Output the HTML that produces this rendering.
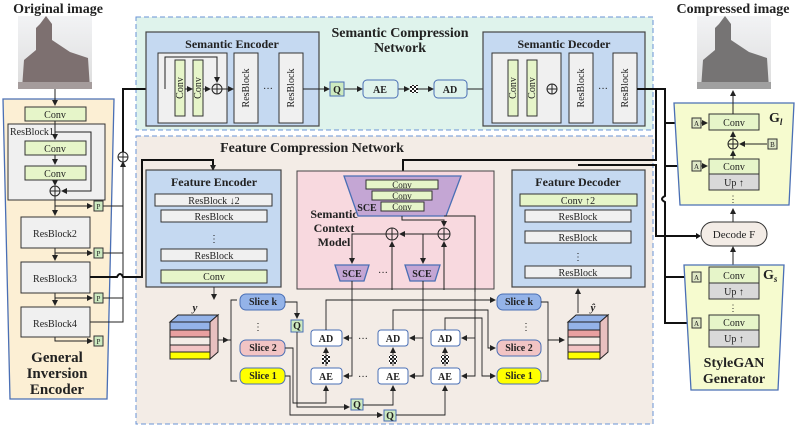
<!DOCTYPE html>
<html><head><meta charset="utf-8"><style>
html,body{margin:0;padding:0;background:#fff}
svg{display:block}
text{font-family:"Liberation Serif",serif;fill:#222}
.b{font-weight:bold}
</style></head><body>
<svg width="798" height="429" viewBox="0 0 798 429" xmlns="http://www.w3.org/2000/svg">
<defs>
<marker id="ar" markerWidth="6" markerHeight="6" refX="5" refY="3" orient="auto" markerUnits="userSpaceOnUse"><path d="M0,0 L6,3 L0,6 z" fill="#222"/></marker>
<pattern id="chk" width="4" height="4" patternUnits="userSpaceOnUse"><rect width="4" height="4" fill="#fff"/><rect width="2" height="2" fill="#222"/><rect x="2" y="2" width="2" height="2" fill="#222"/></pattern>
<linearGradient id="sky" x1="0" y1="0" x2="0" y2="1"><stop offset="0" stop-color="#f2f3f5"/><stop offset="1" stop-color="#dcdcdc"/></linearGradient>
</defs>

<text x="58" y="13" class="b" font-size="14" text-anchor="middle">Original image</text>
<text x="733" y="13" class="b" font-size="14" text-anchor="middle">Compressed image</text>

<g>
<rect x="18" y="16" width="74" height="73" fill="url(#sky)"/>
<path d="M40,24 L46,16 L52,24 L52,40 L70,52 L88,58 L90,89 L22,89 L24,60 L36,50 L36,28 Z" fill="#7d7070"/>
<rect x="18" y="82" width="74" height="7" fill="#a59c9c"/>
</g>
<g>
<rect x="697" y="16" width="74" height="73" fill="url(#sky)"/>
<path d="M719,24 L725,16 L731,24 L731,40 L749,52 L767,58 L769,89 L701,89 L703,60 L715,50 L715,28 Z" fill="#767474"/>
<rect x="697" y="82" width="74" height="7" fill="#a0a0a0"/>
</g>

<path d="M3,99 L114,99 L107,399 L10,399 Z" fill="#fcefd4" stroke="#4a6fb5" stroke-width="1.3"/>
<rect x="25" y="107" width="61" height="14" fill="#e6f5c9" stroke="#333"/>
<text x="55" y="118" font-size="10" text-anchor="middle">Conv</text>
<rect x="8" y="124" width="97" height="76" fill="#f0f0f0" stroke="#333"/>
<text x="10" y="135" font-size="10">ResBlock1</text>
<rect x="25" y="141" width="61" height="14" fill="#e6f5c9" stroke="#333"/>
<text x="55" y="152" font-size="10" text-anchor="middle">Conv</text>
<rect x="25" y="166" width="61" height="14" fill="#e6f5c9" stroke="#333"/>
<text x="55" y="177" font-size="10" text-anchor="middle">Conv</text>
<circle cx="55" cy="191" r="5" fill="none" stroke="#222"/>
<path d="M50,191 H60 M55,186 V196" stroke="#222"/>
<g stroke="#222" fill="none">
<path d="M55,89 V105" marker-end="url(#ar)"/>
<path d="M55,121 V139" marker-end="url(#ar)"/>
<path d="M55,155 V164" marker-end="url(#ar)"/>
<path d="M55,180 V185" marker-end="url(#ar)"/>
<path d="M55,132 H91 V191 H62" marker-end="url(#ar)"/>
<path d="M55,196 V215" marker-end="url(#ar)"/>
<path d="M55,206 H92" marker-end="url(#ar)"/>
<path d="M55,248 V260" marker-end="url(#ar)"/>
<path d="M55,253 H92" marker-end="url(#ar)"/>
<path d="M55,293 V305" marker-end="url(#ar)"/>
<path d="M55,298 H92" marker-end="url(#ar)"/>
<path d="M55,337 V341 H92" marker-end="url(#ar)"/>
<path d="M103,206 H123 M103,253 H123 M103,298 H123 M90,322 H123 V163" />
<path d="M123,165 V162" marker-end="url(#ar)"/>
</g>
<g font-size="10" text-anchor="middle">
<rect x="94" y="201" width="9" height="10" fill="#cdeac0" stroke="#333"/><text x="98.5" y="209" font-size="7">P</text>
<rect x="94" y="248" width="9" height="10" fill="#cdeac0" stroke="#333"/><text x="98.5" y="256" font-size="7">P</text>
<rect x="94" y="293" width="9" height="10" fill="#cdeac0" stroke="#333"/><text x="98.5" y="301" font-size="7">P</text>
<rect x="94" y="336" width="9" height="10" fill="#cdeac0" stroke="#333"/><text x="98.5" y="344" font-size="7">P</text>
<rect x="21" y="217" width="69" height="31" fill="#f0f0f0" stroke="#333"/><text x="55" y="237">ResBlock2</text>
<rect x="21" y="262" width="69" height="31" fill="#f0f0f0" stroke="#333"/><text x="55" y="282">ResBlock3</text>
<rect x="21" y="307" width="69" height="30" fill="#f0f0f0" stroke="#333"/><text x="55" y="327">ResBlock4</text>
</g>
<g font-size="15" text-anchor="middle">
<text x="57" y="362" class="b">General</text>
<text x="57" y="378" class="b">Inversion</text>
<text x="57" y="394" class="b">Encoder</text>
</g>
<circle cx="123" cy="157" r="5" fill="none" stroke="#222"/>
<path d="M118,157 H128 M123,152 V162" stroke="#222"/>

<rect x="136" y="17" width="517" height="113" fill="#dff3ec" stroke="#6a93d6" stroke-dasharray="5,3"/>
<text x="400" y="37" class="b" font-size="14" text-anchor="middle">Semantic Compression</text>
<text x="400" y="52" class="b" font-size="14" text-anchor="middle">Network</text>

<rect x="136" y="136" width="517" height="288" fill="#f3ece6" stroke="#6a93d6" stroke-dasharray="5,3"/>
<text x="312" y="152" class="b" font-size="14" text-anchor="middle">Feature Compression Network</text>

<g stroke="#111" fill="none" stroke-width="2">
<path d="M123,152 V89 H170" marker-end="url(#ar)"/>
<path d="M90,277 H117 q3,-6 6,0 H142 V160 H213 V168" />
<path d="M213,163 V170" marker-end="url(#ar)"/>
</g>

<rect x="146" y="32" width="173" height="94" fill="#c5d9f1" stroke="#444" stroke-width="1.2"/>
<text x="232" y="48" class="b" font-size="12" text-anchor="middle">Semantic Encoder</text>
<rect x="158" y="53" width="69" height="70" fill="#f0f0f0" stroke="#333"/>
<rect x="175" y="60" width="10" height="56" fill="#e6f5c9" stroke="#333"/>
<rect x="193" y="60" width="10" height="56" fill="#e6f5c9" stroke="#333"/>
<text transform="translate(183,88) rotate(-90)" font-size="10" text-anchor="middle">Conv</text>
<text transform="translate(201,88) rotate(-90)" font-size="10" text-anchor="middle">Conv</text>
<circle cx="217" cy="89" r="5" fill="none" stroke="#222"/><path d="M212,89 H222 M217,84 V94" stroke="#222"/>
<rect x="234" y="53" width="24" height="70" fill="#f0f0f0" stroke="#333"/>
<rect x="279" y="53" width="24" height="70" fill="#f0f0f0" stroke="#333"/>
<text transform="translate(249,88) rotate(-90)" font-size="10" text-anchor="middle">ResBlock</text>
<text transform="translate(294,88) rotate(-90)" font-size="10" text-anchor="middle">ResBlock</text>
<text x="268" y="92" font-size="10" text-anchor="middle">···</text>
<g stroke="#222" fill="none">
<path d="M165,89 V57 H217 V82" marker-end="url(#ar)"/>
<path d="M185,89 H192" marker-end="url(#ar)"/>
<path d="M203,89 H210" marker-end="url(#ar)"/>
<path d="M222,89 H233" marker-end="url(#ar)"/>
<path d="M303,89 H329" marker-end="url(#ar)"/>
<path d="M344,89 H362" marker-end="url(#ar)"/>
<path d="M398,89 H409" marker-end="url(#ar)"/>
<path d="M418,89 H433" marker-end="url(#ar)"/>
<path d="M467,89 H507" marker-end="url(#ar)"/>
<path d="M498,89 V57 H552 V82" marker-end="url(#ar)"/>
<path d="M518,89 H526" marker-end="url(#ar)"/>
<path d="M537,89 H545" marker-end="url(#ar)"/>
<path d="M557,89 H568" marker-end="url(#ar)"/>
</g>
<rect x="330" y="82" width="14" height="14" fill="#cdeac0" stroke="#4a6fb5"/>
<text x="337" y="93" class="b" font-size="10" text-anchor="middle">Q</text>
<rect x="363" y="80" width="35" height="18" rx="4" fill="#dff3ec" stroke="#4a6fb5"/>
<text x="380" y="93" class="b" font-size="10" text-anchor="middle">AE</text>
<rect x="410" y="85" width="8" height="8" fill="url(#chk)"/>
<rect x="434" y="80" width="33" height="18" rx="4" fill="#dff3ec" stroke="#4a6fb5"/>
<text x="450" y="93" class="b" font-size="10" text-anchor="middle">AD</text>

<rect x="483" y="32" width="162" height="94" fill="#c5d9f1" stroke="#444" stroke-width="1.2"/>
<text x="564" y="48" class="b" font-size="12" text-anchor="middle">Semantic Decoder</text>
<rect x="492" y="53" width="69" height="70" fill="#f0f0f0" stroke="#333"/>
<rect x="508" y="60" width="10" height="56" fill="#e6f5c9" stroke="#333"/>
<rect x="527" y="60" width="10" height="56" fill="#e6f5c9" stroke="#333"/>
<text transform="translate(516,88) rotate(-90)" font-size="10" text-anchor="middle">Conv</text>
<text transform="translate(535,88) rotate(-90)" font-size="10" text-anchor="middle">Conv</text>
<circle cx="552" cy="89" r="5" fill="none" stroke="#222"/><path d="M547,89 H557 M552,84 V94" stroke="#222"/>
<rect x="569" y="53" width="24" height="70" fill="#f0f0f0" stroke="#333"/>
<rect x="613" y="53" width="24" height="70" fill="#f0f0f0" stroke="#333"/>
<text transform="translate(584,88) rotate(-90)" font-size="10" text-anchor="middle">ResBlock</text>
<text transform="translate(628,88) rotate(-90)" font-size="10" text-anchor="middle">ResBlock</text>
<text x="603" y="92" font-size="10" text-anchor="middle">···</text>

<g stroke="#111" fill="none" stroke-width="2">
<path d="M637,89 H656 V160 H403 V174"/>
<path d="M637,89 H665 V196 q-6,3 0,6 V323 H690"/>
<path d="M665,123 H690"/>
<path d="M665,166 H690"/>
<path d="M665,277 H690"/>
<path d="M578,165 H656 V236 H699"/>
</g>
<g fill="#111"><path d="M692,123 l-5,-3 v6z"/><path d="M692,166 l-5,-3 v6z"/><path d="M692,277 l-5,-3 v6z"/><path d="M692,323 l-5,-3 v6z"/><path d="M701,236 l-5,-3 v6z"/><path d="M403,176 l-3,-5 h6z"/></g>

<path d="M674,103 L794,103 L789,205 L680,205 Z" fill="#f6fbcf" stroke="#4a6fb5" stroke-width="1.3"/>
<text x="769" y="122" class="b" font-size="14">G<tspan font-size="9" font-style="italic" dy="3">l</tspan></text>
<rect x="709" y="114" width="50" height="16" fill="#e6f5c9" stroke="#333"/>
<text x="734" y="126" font-size="10" text-anchor="middle">Conv</text>
<circle cx="733" cy="144" r="5" fill="none" stroke="#222"/><path d="M728,144 H738 M733,139 V149" stroke="#222"/>
<rect x="768" y="139" width="9" height="10" fill="#dfe8c6" stroke="#333"/><text x="772.5" y="147" font-size="7" text-anchor="middle">B</text>
<rect x="709" y="159" width="50" height="15" fill="#e6f5c9" stroke="#333"/>
<text x="734" y="170" font-size="10" text-anchor="middle">Conv</text>
<rect x="709" y="174" width="50" height="16" fill="#d9d9d9" stroke="#333"/>
<text x="734" y="186" font-size="10" text-anchor="middle">Up ↑</text>
<text x="733" y="202" font-size="9" text-anchor="middle">⋮</text>
<rect x="692" y="118" width="9" height="10" fill="#dfe8c6" stroke="#333"/><text x="696.5" y="126" font-size="7" text-anchor="middle">A</text>
<rect x="692" y="161" width="9" height="10" fill="#dfe8c6" stroke="#333"/><text x="696.5" y="169" font-size="7" text-anchor="middle">A</text>
<g stroke="#222" fill="none">
<path d="M701,123 H707" marker-end="url(#ar)"/>
<path d="M701,166 H707" marker-end="url(#ar)"/>
<path d="M767,144 H740" marker-end="url(#ar)"/>
<path d="M733,159 V151" marker-end="url(#ar)"/>
<path d="M733,139 V132" marker-end="url(#ar)"/>
<path d="M733,114 V91" marker-end="url(#ar)"/>
<path d="M733,222 V209" marker-end="url(#ar)"/>
<path d="M733,265 V247" marker-end="url(#ar)"/>
<path d="M701,277 H707" marker-end="url(#ar)"/>
<path d="M701,323 H707" marker-end="url(#ar)"/>
</g>

<rect x="701" y="222" width="66" height="24" rx="12" fill="#f3ece6" stroke="#333"/>
<text x="734" y="238" font-size="11" text-anchor="middle">Decode F</text>

<path d="M684,265 L784,265 L778,390 L691,390 Z" fill="#f6fbcf" stroke="#4a6fb5" stroke-width="1.3"/>
<text x="763" y="279" class="b" font-size="14">G<tspan font-size="9" font-style="italic" dy="3">s</tspan></text>
<rect x="709" y="267" width="50" height="16" fill="#e6f5c9" stroke="#333"/><text x="734" y="279" font-size="10" text-anchor="middle">Conv</text>
<rect x="709" y="283" width="50" height="16" fill="#d9d9d9" stroke="#333"/><text x="734" y="295" font-size="10" text-anchor="middle">Up ↑</text>
<text x="733" y="311" font-size="9" text-anchor="middle">⋮</text>
<rect x="709" y="315" width="50" height="15" fill="#e6f5c9" stroke="#333"/><text x="734" y="326" font-size="10" text-anchor="middle">Conv</text>
<rect x="709" y="330" width="50" height="17" fill="#d9d9d9" stroke="#333"/><text x="734" y="342" font-size="10" text-anchor="middle">Up ↑</text>
<rect x="692" y="272" width="9" height="10" fill="#dfe8c6" stroke="#333"/><text x="696.5" y="280" font-size="7" text-anchor="middle">A</text>
<rect x="692" y="318" width="9" height="10" fill="#dfe8c6" stroke="#333"/><text x="696.5" y="326" font-size="7" text-anchor="middle">A</text>
<text x="734" y="367" class="b" font-size="14" text-anchor="middle">StyleGAN</text>
<text x="734" y="383" class="b" font-size="14" text-anchor="middle">Generator</text>

<rect x="146" y="170" width="135" height="117" fill="#c5d9f1" stroke="#444" stroke-width="1.2"/>
<text x="214" y="186" class="b" font-size="12" text-anchor="middle">Feature Encoder</text>
<g font-size="10" text-anchor="middle">
<rect x="155" y="194" width="117" height="12" fill="#f0f0f0" stroke="#333"/><text x="214" y="204">ResBlock ↓2</text>
<rect x="161" y="210" width="106" height="12" fill="#f0f0f0" stroke="#333"/><text x="214" y="220">ResBlock</text>
<text x="214" y="242">⋮</text>
<rect x="161" y="249" width="106" height="12" fill="#f0f0f0" stroke="#333"/><text x="214" y="259">ResBlock</text>
<rect x="161" y="270" width="106" height="13" fill="#e6f5c9" stroke="#333"/><text x="214" y="280">Conv</text>
</g>

<rect x="512" y="170" width="133" height="117" fill="#c5d9f1" stroke="#444" stroke-width="1.2"/>
<text x="578" y="186" class="b" font-size="12" text-anchor="middle">Feature Decoder</text>
<g font-size="10" text-anchor="middle">
<rect x="520" y="194" width="117" height="12" fill="#e6f5c9" stroke="#333"/><text x="578" y="204">Conv ↑2</text>
<rect x="525" y="210" width="106" height="12" fill="#f0f0f0" stroke="#333"/><text x="578" y="220">ResBlock</text>
<rect x="525" y="231" width="106" height="12" fill="#f0f0f0" stroke="#333"/><text x="578" y="241">ResBlock</text>
<text x="578" y="260">⋮</text>
<rect x="525" y="266" width="106" height="12" fill="#f0f0f0" stroke="#333"/><text x="578" y="276">ResBlock</text>
</g>

<rect x="297" y="171" width="197" height="118" fill="#f8d9df" stroke="#444"/>
<g font-size="12" text-anchor="middle">
<text x="334" y="218" class="b">Semantic</text>
<text x="334" y="232" class="b">Context</text>
<text x="334" y="246" class="b">Model</text>
</g>
<path d="M344,176 L461,176 L446,216 L358,216 Z" fill="#c4a6d4" stroke="#4a6fb5" stroke-width="1.3"/>
<g font-size="9" text-anchor="middle">
<rect x="366" y="180" width="72" height="9" fill="#e6f5c9" stroke="#333"/><text x="402" y="188">Conv</text>
<rect x="372" y="191" width="60" height="9" fill="#e6f5c9" stroke="#333"/><text x="402" y="199">Conv</text>
<rect x="381" y="202" width="43" height="9" fill="#e6f5c9" stroke="#333"/><text x="402" y="210">Conv</text>
</g>
<text x="367" y="211" class="b" font-size="10" text-anchor="middle">SCE</text>
<circle cx="392" cy="234" r="6" fill="none" stroke="#222"/><path d="M386,234 H398 M392,228 V240" stroke="#222"/>
<circle cx="444" cy="234" r="6" fill="none" stroke="#222"/><path d="M438,234 H450 M444,228 V240" stroke="#222"/>
<path d="M335,265 L369,265 L364,281 L340,281 Z" fill="#c4a6d4" stroke="#4a6fb5" stroke-width="1.3"/>
<path d="M405,265 L440,265 L435,281 L410,281 Z" fill="#c4a6d4" stroke="#4a6fb5" stroke-width="1.3"/>
<text x="352" y="277" class="b" font-size="10" text-anchor="middle">SCE</text>
<text x="422" y="277" class="b" font-size="10" text-anchor="middle">SCE</text>
<text x="383" y="276" font-size="10" text-anchor="middle">···</text>
<g stroke="#222" fill="none">
<path d="M402,216 V220 H444 V226" marker-end="url(#ar)"/>
<path d="M444,216 H475 V292"/>
<path d="M438,234 H400" marker-end="url(#ar)"/>
<path d="M386,234 H352 V263" marker-end="url(#ar)"/>
<path d="M423,234 V263" marker-end="url(#ar)"/>
<path d="M392,290 V242" marker-end="url(#ar)"/>
<path d="M444,290 V242" marker-end="url(#ar)"/>
<path d="M352,281 V290 M423,281 V290"/>
</g>

<g stroke="#222" stroke-width="1">
<path d="M170,322 L178,315 L218,315 L210,322 Z" fill="#94b3e8"/>
<rect x="170" y="322" width="40" height="8" fill="#94b3e8"/>
<rect x="170" y="330" width="40" height="7" fill="#e8a0a0"/>
<rect x="170" y="337" width="40" height="8" fill="#f3ece6"/>
<rect x="170" y="345" width="40" height="7" fill="#f2c4c4"/>
<rect x="170" y="352" width="40" height="7" fill="#ffff00"/>
<path d="M210,322 L218,315 L218,352 L210,359 Z" fill="#e8c0c0"/>
<path d="M568,322 L576,315 L608,315 L600,322 Z" fill="#94b3e8"/>
<rect x="568" y="322" width="32" height="8" fill="#94b3e8"/>
<rect x="568" y="330" width="32" height="7" fill="#e8a0a0"/>
<rect x="568" y="337" width="32" height="8" fill="#f3ece6"/>
<rect x="568" y="345" width="32" height="7" fill="#f2c4c4"/>
<rect x="568" y="352" width="32" height="7" fill="#ffff00"/>
<path d="M600,322 L608,315 L608,352 L600,359 Z" fill="#e8c0c0"/>
</g>
<text x="195" y="311" class="b" font-style="italic" font-size="11" text-anchor="middle">y</text>
<text x="593" y="311" class="b" font-style="italic" font-size="11" text-anchor="middle">ŷ</text>

<g font-size="10" text-anchor="middle">
<rect x="240" y="294" width="45" height="16" rx="6" fill="#94b3e8" stroke="#4a6fb5"/><text x="263" y="305" class="b">Slice k</text>
<rect x="240" y="340" width="45" height="16" rx="6" fill="#f2c4c4" stroke="#4a6fb5"/><text x="263" y="351" class="b">Slice 2</text>
<rect x="240" y="368" width="45" height="16" rx="6" fill="#ffff00" stroke="#4a6fb5"/><text x="263" y="379" class="b">Slice 1</text>
<rect x="497" y="294" width="44" height="16" rx="6" fill="#94b3e8" stroke="#4a6fb5"/><text x="519" y="305" class="b">Slice k</text>
<rect x="497" y="340" width="44" height="16" rx="6" fill="#f2c4c4" stroke="#4a6fb5"/><text x="519" y="351" class="b">Slice 2</text>
<rect x="497" y="368" width="44" height="16" rx="6" fill="#ffff00" stroke="#4a6fb5"/><text x="519" y="379" class="b">Slice 1</text>
</g>
<text x="258" y="330" font-size="10" text-anchor="middle">⋮</text>
<text x="526" y="330" font-size="10" text-anchor="middle">⋮</text>

<g font-size="10" text-anchor="middle">
<rect x="311" y="330" width="31" height="16" rx="3" fill="#fff" stroke="#4a6fb5"/><text x="326" y="342" class="b">AD</text>
<rect x="378" y="330" width="30" height="16" rx="3" fill="#fff" stroke="#4a6fb5"/><text x="393" y="342" class="b">AD</text>
<rect x="431" y="330" width="29" height="16" rx="3" fill="#fff" stroke="#4a6fb5"/><text x="445" y="342" class="b">AD</text>
<rect x="311" y="368" width="31" height="16" rx="3" fill="#fff" stroke="#4a6fb5"/><text x="326" y="380" class="b">AE</text>
<rect x="378" y="368" width="30" height="16" rx="3" fill="#fff" stroke="#4a6fb5"/><text x="393" y="380" class="b">AE</text>
<rect x="431" y="368" width="29" height="16" rx="3" fill="#fff" stroke="#4a6fb5"/><text x="445" y="380" class="b">AE</text>
<rect x="291" y="320" width="12" height="12" fill="#cdeac0" stroke="#4a6fb5"/><text x="297" y="329" class="b">Q</text>
<rect x="351" y="399" width="12" height="11" fill="#cdeac0" stroke="#4a6fb5"/><text x="357" y="408" class="b">Q</text>
<rect x="384" y="410" width="12" height="11" fill="#cdeac0" stroke="#4a6fb5"/><text x="390" y="419" class="b">Q</text>
</g>
<rect x="322" y="355" width="8" height="9" fill="url(#chk)"/>
<rect x="389" y="355" width="8" height="9" fill="url(#chk)"/>
<rect x="441" y="355" width="8" height="9" fill="url(#chk)"/>
<text x="363" y="342" font-size="10" text-anchor="middle">···</text>
<text x="363" y="380" font-size="10" text-anchor="middle">···</text>

<g stroke="#222" fill="none" stroke-width="0.9">
<path d="M214,287 V299" marker-end="url(#ar)"/>
<path d="M218,340 H228" marker-end="url(#ar)"/>
<path d="M237,300 H231 V381 H237 M231,340 H228"/>
<path d="M285,302 H297 V318" marker-end="url(#ar)"/>
<path d="M297,332 V407 H349" marker-end="url(#ar)"/>
<path d="M285,348 H293 V403 H326 V386" marker-end="url(#ar)"/>
<path d="M285,376 H290 V415 H382" marker-end="url(#ar)"/>
<path d="M363,405 H393 V386" marker-end="url(#ar)"/>
<path d="M396,415 H445 V386" marker-end="url(#ar)"/>
<path d="M326,366 V348" marker-end="url(#ar)"/>
<path d="M393,366 V348" marker-end="url(#ar)"/>
<path d="M445,366 V348" marker-end="url(#ar)"/>
<path d="M326,330 V300 H495" marker-end="url(#ar)"/>
<path d="M393,330 V310 H488 V348 H495" marker-end="url(#ar)"/>
<path d="M445,330 V318 H482 V376 H495" marker-end="url(#ar)"/>
<path d="M352,290 V376 H344" marker-end="url(#ar)"/>
<path d="M352,338 H344" marker-end="url(#ar)"/>
<path d="M423,290 V376 H410" marker-end="url(#ar)"/>
<path d="M423,338 H410" marker-end="url(#ar)"/>
<path d="M475,292 V376 H462" marker-end="url(#ar)"/>
<path d="M475,338 H462" marker-end="url(#ar)"/>
<path d="M541,302 H548 V381 H541 M548,340 H564" marker-end="url(#ar)"/>
<path d="M578,313 V289" marker-end="url(#ar)"/>
</g>
</svg>
</body></html>
